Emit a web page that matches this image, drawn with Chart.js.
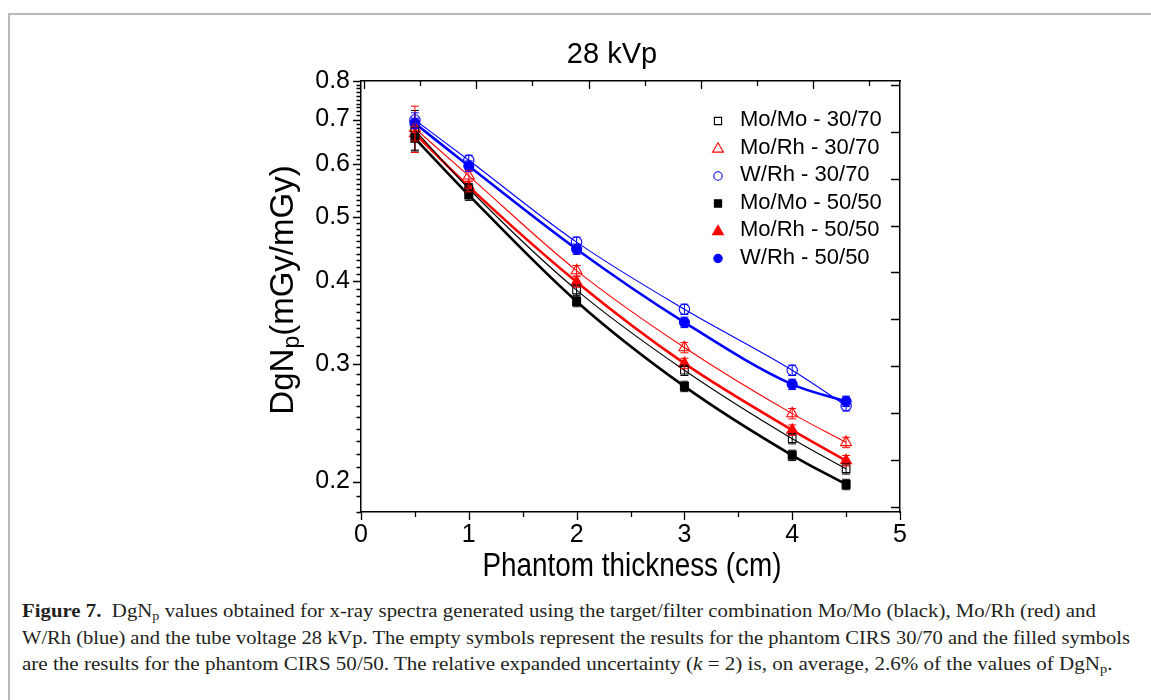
<!DOCTYPE html>
<html>
<head>
<meta charset="utf-8">
<script src="https://cdn.jsdelivr.net/npm/chart.js@4/dist/chart.umd.min.js"></script>
<style>
html, body { margin: 0; padding: 0; background: #fff; }
body { width: 1151px; height: 700px; position: relative; overflow: hidden; }
#frame { position: absolute; left: 8px; top: 13px; width: 1300px; height: 800px;
         border-left: 2px solid #b9b9b9; border-top: 2px solid #b9b9b9; }
#wrap { position: absolute; left: 0; top: 0; width: 1151px; height: 590px; }
#caption { position: absolute; left: 22px; top: 598px; color: #231f20;
           font-family: "Liberation Serif", "DejaVu Serif", serif; font-size: 19px; line-height: 26.5px; }
.line { white-space: nowrap; height: 26.5px; }
.line span.fit { display: inline-block; transform-origin: 0 0; }
.line sub { font-size: 13px; vertical-align: -3px; line-height: 0; }
</style>
</head>
<body>
<div id="frame"></div>
<div id="wrap"><canvas id="chart" width="1151" height="590"></canvas></div>
<div id="caption">
  <div class="line" data-w="1074"><span class="fit"><b>Figure 7.</b>&nbsp; DgN<sub>p</sub> values obtained for x-ray spectra generated using the target/filter combination Mo/Mo (black), Mo/Rh (red) and</span></div>
  <div class="line" data-w="1108"><span class="fit">W/Rh (blue) and the tube voltage 28 kVp. The empty symbols represent the results for the phantom CIRS 30/70 and the filled symbols</span></div>
  <div class="line" data-w="1091"><span class="fit">are the results for the phantom CIRS 50/50. The relative expanded uncertainty (<i>k</i> = 2) is, on average, 2.6% of the values of DgN<sub>p</sub>.</span></div>
</div>
<script>
// --- DATA ---
const thickness = [0.5, 1, 2, 3, 4, 4.5];

const moMo3070 = [0.675, 0.551, 0.388, 0.294, 0.232, 0.209];
const moRh3070 = [0.679, 0.576, 0.415, 0.318, 0.253, 0.229];
const wRh3070  = [0.699, 0.608, 0.458, 0.363, 0.294, 0.260];
const moMo5050 = [0.656, 0.539, 0.373, 0.278, 0.219, 0.198];
const moRh5050 = [0.667, 0.555, 0.399, 0.301, 0.239, 0.215];
const wRh5050  = [0.691, 0.596, 0.447, 0.347, 0.280, 0.264];

// relative half-width of the error bars
const errMoMo3070 = [0.070, 0.018, 0.018, 0.018, 0.018, 0.018];
const errMoRh3070 = [0.080, 0.018, 0.018, 0.018, 0.018, 0.018];
const errWRh3070  = [0.025, 0.018, 0.018, 0.018, 0.018, 0.018];
const errMoMo5050 = [0.040, 0.018, 0.018, 0.018, 0.018, 0.018];
const errMoRh5050 = [0.025, 0.018, 0.018, 0.018, 0.018, 0.018];
const errWRh5050  = [0.018, 0.018, 0.018, 0.018, 0.018, 0.018];

const seriesLabels = ['Mo/Mo - 30/70', 'Mo/Rh - 30/70', 'W/Rh - 30/70',
                      'Mo/Mo - 50/50', 'Mo/Rh - 50/50', 'W/Rh - 50/50'];

const xTickValues = [0, 1, 2, 3, 4, 5];
const xMinorValues = [0.5, 1.5, 2.5, 3.5, 4.5];
const yTickValues = [0.2, 0.3, 0.4, 0.5, 0.6, 0.7, 0.8];
const frameTickIndex = [0, 1, 2, 3, 4, 5, 6, 7, 8, 9]; // decorative top / right axis ticks

const chartTitle = '28 kVp';
const xTitle = 'Phantom thickness (cm)';

const SANS = '"Liberation Sans", Arial, Helvetica, sans-serif';

// --- DATASETS ---
function makeSet(label, values, errs, color, style, filled, radius) {
    return {
        label: label,
        data: thickness.map((x, i) => ({ x: x, y: values[i] })),
        errs: errs,
        xAxisID: 'x',
        yAxisID: 'y',
        showLine: true,
        fill: false,
        borderColor: color,
        borderWidth: filled ? 2.6 : 1.1,
        cubicInterpolationMode: 'monotone',
        pointStyle: style,
        pointRadius: radius,
        pointHoverRadius: radius,
        pointBorderWidth: 1.1,
        pointBorderColor: color,
        pointBackgroundColor: filled ? color : 'rgba(0,0,0,0)',
        legendFilled: filled
    };
}

const datasets = [
    makeSet(seriesLabels[0], moMo3070, errMoMo3070, '#000000', 'rect', false, 5.4),
    makeSet(seriesLabels[1], moRh3070, errMoRh3070, '#ff0000', 'triangle', false, 6.3),
    makeSet(seriesLabels[2], wRh3070,  errWRh3070,  '#0000ff', 'circle', false, 5.2),
    makeSet(seriesLabels[3], moMo5050, errMoMo5050, '#000000', 'rect', true, 5.6),
    makeSet(seriesLabels[4], moRh5050, errMoRh5050, '#ff0000', 'triangle', true, 6.3),
    makeSet(seriesLabels[5], wRh5050,  errWRh5050,  '#0000ff', 'circle', true, 5.0)
];

// --- PLUGINS ---
const errorBars = {
    id: 'errorBars',
    afterDatasetsDraw(chart) {
        const ctx = chart.ctx;
        const xs = chart.scales.x, ys = chart.scales.y;
        ctx.save();
        chart.data.datasets.forEach(ds => {
            ctx.strokeStyle = ds.borderColor;
            ctx.lineWidth = 1;
            ds.data.forEach((p, i) => {
                const e = ds.errs[i];
                const px = xs.getPixelForValue(p.x);
                const top = ys.getPixelForValue(p.y * (1 + e));
                const bot = ys.getPixelForValue(p.y * (1 - e));
                ctx.beginPath();
                ctx.moveTo(px, top); ctx.lineTo(px, bot);
                ctx.moveTo(px - 4, top); ctx.lineTo(px + 4, top);
                ctx.moveTo(px - 4, bot); ctx.lineTo(px + 4, bot);
                ctx.stroke();
            });
        });
        ctx.restore();
    }
};

function drawMarker(ctx, style, x, y, r, color, filled) {
    ctx.beginPath();
    if (style === 'rect') {
        ctx.rect(x - r, y - r, 2 * r, 2 * r);
    } else if (style === 'triangle') {
        ctx.moveTo(x, y - r * 1.1);
        ctx.lineTo(x + r * 1.05, y + r * 0.7);
        ctx.lineTo(x - r * 1.05, y + r * 0.7);
        ctx.closePath();
    } else {
        ctx.arc(x, y, r, 0, Math.PI * 2);
    }
    if (filled) { ctx.fillStyle = color; ctx.fill(); }
    ctx.strokeStyle = color;
    ctx.lineWidth = 1.1;
    ctx.stroke();
}

const legendBox = {
    id: 'legendBox',
    afterDraw(chart) {
        const ctx = chart.ctx;
        ctx.save();
        ctx.font = '22px ' + SANS;
        ctx.textBaseline = 'middle';
        ctx.textAlign = 'left';
        chart.data.datasets.forEach((ds, i) => {
            const y = 121 + i * 27.5;
            const r = ds.pointStyle === 'rect' ? 3.6 : (ds.pointStyle === 'triangle' ? 5.2 : 4.2);
            drawMarker(ctx, ds.pointStyle, 718, y, r, ds.borderColor, ds.legendFilled);
            ctx.fillStyle = '#000';
            ctx.fillText(ds.label, 740, y - 1);
        });
        ctx.restore();
    }
};

const axisDecor = {
    id: 'axisDecor',
    afterDraw(chart) {
        const ctx = chart.ctx;
        const a = chart.chartArea;
        const xs = chart.scales.x, ys = chart.scales.y;
        const xt = chart.scales.xTop, yr = chart.scales.yRight;
        ctx.save();
        ctx.strokeStyle = '#000';
        ctx.lineWidth = 1.3;
        ctx.beginPath();
        // left axis: major and minor ticks, outside
        yTickValues.forEach(v => {
            const py = Math.round(ys.getPixelForValue(v)) + 0.5;
            ctx.moveTo(a.left - 8, py); ctx.lineTo(a.left, py);
        });
        for (let k = 18; k <= 80; k++) {
            if (k % 10 === 0) continue;
            const py = Math.round(ys.getPixelForValue(k / 100)) + 0.5;
            ctx.moveTo(a.left - 4.5, py); ctx.lineTo(a.left, py);
        }
        // bottom axis, outside
        xTickValues.forEach(v => {
            const px = Math.round(xs.getPixelForValue(v)) + 0.5;
            ctx.moveTo(px, a.bottom); ctx.lineTo(px, a.bottom + 8);
        });
        xMinorValues.forEach(v => {
            const px = Math.round(xs.getPixelForValue(v)) + 0.5;
            ctx.moveTo(px, a.bottom); ctx.lineTo(px, a.bottom + 5);
        });
        // top axis, inside
        frameTickIndex.forEach(k => {
            const px = Math.round(xt.getPixelForValue(k)) + 0.5;
            ctx.moveTo(px, a.top); ctx.lineTo(px, a.top + (k % 2 === 0 ? 8 : 5));
        });
        // right axis, inside
        frameTickIndex.forEach(k => {
            const py = Math.round(yr.getPixelForValue(k)) + 0.5;
            ctx.moveTo(a.right, py); ctx.lineTo(a.right - 9, py);
        });
        ctx.stroke();

        // titles
        ctx.fillStyle = '#000';
        ctx.textAlign = 'center';
        ctx.textBaseline = 'alphabetic';
        ctx.font = '29px ' + SANS;
        ctx.fillText(chartTitle, 612, 63);

        ctx.font = '33px ' + SANS;
        const w = ctx.measureText(xTitle).width;
        ctx.save();
        ctx.translate(632, 576);
        ctx.scale(299 / w, 1);
        ctx.fillText(xTitle, 0, 0);
        ctx.restore();

        // y title with subscript p
        const big = '33px ' + SANS, small = '23px ' + SANS;
        ctx.font = big; const w1 = ctx.measureText('DgN').width;
        ctx.font = small; const w2 = ctx.measureText('p').width;
        ctx.font = big; const w3 = ctx.measureText('(mGy/mGy)').width;
        const total = w1 + w2 + w3;
        ctx.save();
        ctx.translate(293, 290);
        ctx.rotate(-Math.PI / 2);
        ctx.textAlign = 'left';
        let x0 = -total / 2;
        ctx.font = big; ctx.fillText('DgN', x0, 0); x0 += w1;
        ctx.font = small; ctx.fillText('p', x0, 6); x0 += w2;
        ctx.font = big; ctx.fillText('(mGy/mGy)', x0, 0);
        ctx.restore();
        ctx.restore();
    }
};

// --- CHART ---
const borderOpt = { display: true, color: '#000', width: 1.5 };
const noGrid = { display: false, drawTicks: false };

new Chart(document.getElementById('chart').getContext('2d'), {
    type: 'scatter',
    data: { datasets: datasets },
    options: {
        responsive: false,
        animation: false,
        devicePixelRatio: 1,
        layout: { padding: 0 },
        plugins: { legend: { display: false }, title: { display: false }, tooltip: { enabled: false } },
        scales: {
            x: {
                type: 'linear', position: 'bottom', min: 0, max: 5,
                afterBuildTicks: s => { s.ticks = xTickValues.map(v => ({ value: v })); },
                afterFit: s => { s.height = 78; },
                grid: noGrid, border: borderOpt,
                ticks: { color: '#000', padding: 8, maxRotation: 0, autoSkip: false,
                         font: { family: SANS, size: 25 }, callback: v => String(v) }
            },
            xTop: {
                type: 'linear', position: 'top', min: -0.053, max: 9.545,
                afterFit: s => { s.height = 81; },
                grid: noGrid, border: borderOpt, ticks: { display: false }
            },
            y: {
                type: 'logarithmic', position: 'left', min: 0.18, max: 0.8,
                afterBuildTicks: s => { s.ticks = yTickValues.map(v => ({ value: v })); },
                afterFit: s => { s.width = 361; },
                grid: noGrid, border: borderOpt,
                ticks: { color: '#000', padding: 11, autoSkip: false,
                         font: { family: SANS, size: 25 }, callback: v => Number(v).toFixed(1) }
            },
            yRight: {
                type: 'linear', position: 'right', min: -0.113, max: 9.087,
                afterFit: s => { s.width = 251; },
                grid: noGrid, border: borderOpt, ticks: { display: false }
            }
        }
    },
    plugins: [errorBars, legendBox, axisDecor]
});

// --- CAPTION: squeeze each line to the width of the printed one ---
document.querySelectorAll('#caption .line').forEach(line => {
    const span = line.querySelector('.fit');
    const target = parseFloat(line.dataset.w);
    span.style.transform = 'scaleX(' + (target / span.offsetWidth) + ')';
});
</script>
</body>
</html>
